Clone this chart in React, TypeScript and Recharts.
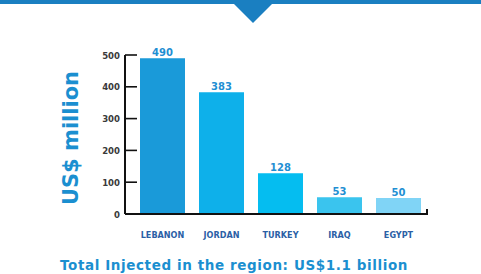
import { Bar, BarChart, Cell, LabelList, XAxis, YAxis } from 'recharts'

const COUNTRIES = ['LEBANON', 'JORDAN', 'TURKEY', 'IRAQ', 'EGYPT']
const INJECTED = [490, 383, 128, 53, 50]
const Y_TICKS = [0, 100, 200, 300, 400, 500]
const COLORS = ['#1a9ad9', '#0eb0ea', '#05bdf0', '#3ac4ee', '#80d4f6']

const data = COUNTRIES.map((name, i) => ({ name, value: INJECTED[i] }))

// y tick: label outside, short mark pointing into the plot
function YTick(props: any) {
  const { x, y, payload } = props
  return (
    <g>
      {payload.value !== 0 && <line x1={x + 5} x2={x + 17} y1={y} y2={y} stroke="#111" strokeWidth={1.6} />}
      <text
        x={x}
        y={y}
        dy={3.5}
        textAnchor="end"
        fontSize={9.5}
        fontFamily="'DejaVu Sans Condensed', sans-serif"
        fontWeight="bold"
        fill="#3a3a3a"
      >
        {payload.value}
      </text>
    </g>
  )
}

export default function App() {
  return (
    <div style={{ position: 'absolute', left: 0, top: 0, width: 481, height: 274, background: '#fff', overflow: 'hidden' }}>
      <svg width={481} height={274} style={{ position: 'absolute', left: 0, top: 0 }}>
        <rect x={0} y={0} width={481} height={4} fill="#1a7fc1" />
        <polygon points="233,3 273,3 253,23" fill="#1a7fc1" />
        <text
          transform="translate(78,138) rotate(-90)"
          textAnchor="middle"
          fontFamily="'DejaVu Sans', sans-serif"
          fontWeight="bold"
          fontSize={21}
          fill="#1b8fd0"
        >
          US$ million
        </text>
        <text
          x={60}
          y={270}
          fontFamily="'DejaVu Sans', sans-serif"
          fontWeight="bold"
          fontSize={13.5}
          letterSpacing={0.6}
          fill="#1b8fd0"
        >
          Total Injected in the region: US$1.1 billion
        </text>
        <line x1={427} x2={427} y1={209} y2={214} stroke="#111" strokeWidth={2} />
      </svg>
      <div style={{ position: 'absolute', left: 0, top: 0 }}>
        <BarChart width={481} height={274} data={data} margin={{ top: 55, right: 53, bottom: 40, left: 95 }}>
          <XAxis
            dataKey="name"
            padding={{ left: 8, right: 0 }}
            axisLine={{ stroke: '#111', strokeWidth: 2 }}
            tickLine={false}
            tickMargin={12}
            tick={{ fontSize: 9, fontFamily: "'DejaVu Sans Condensed', sans-serif", fontWeight: 'bold', fill: '#2b5fa6' }}
            height={20}
          />
          <YAxis
            domain={[0, 500]}
            ticks={Y_TICKS}
            width={30}
            axisLine={{ stroke: '#111', strokeWidth: 2 }}
            tickLine={false}
            tickSize={3}
            tickMargin={2}
            tick={<YTick />}
          />
          <Bar dataKey="value" barSize={45} isAnimationActive={false}>
            {data.map((_, i) => (
              <Cell key={i} fill={COLORS[i]} />
            ))}
            <LabelList
              dataKey="value"
              position="top"
              offset={2}
              style={{ fontSize: 10, fontFamily: "'DejaVu Sans', sans-serif", fontWeight: 'bold', fill: '#1f8fd3' }}
            />
          </Bar>
        </BarChart>
      </div>
    </div>
  )
}
